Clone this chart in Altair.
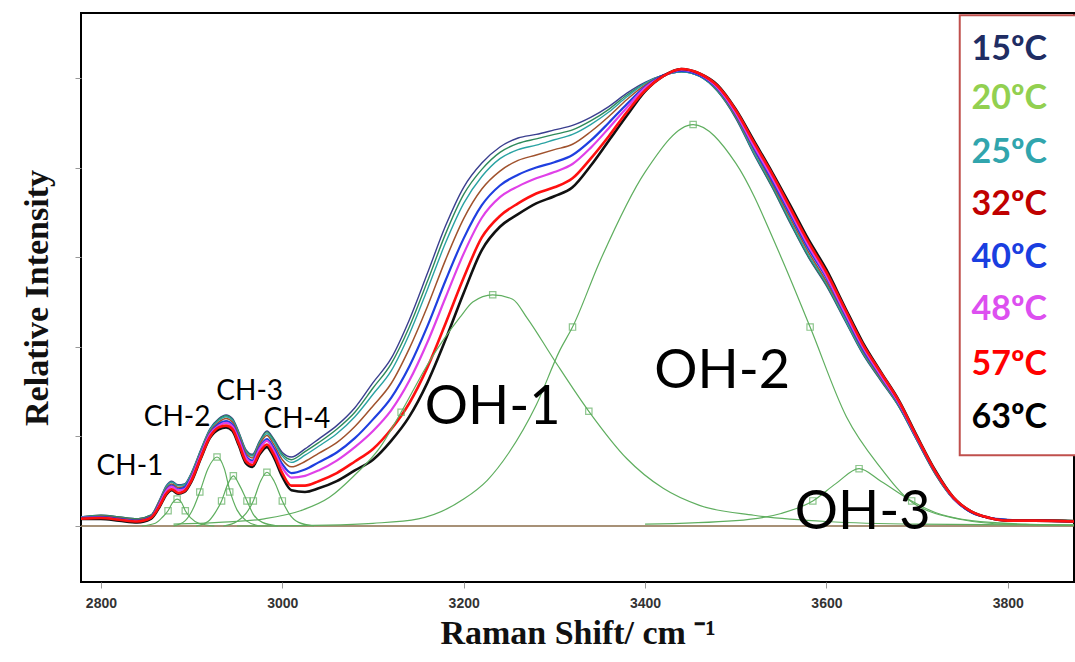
import altair as alt
import pandas as pd

# ---------------- data ----------------
wavenumber = [2778, 2800, 2820, 2840, 2855, 2865, 2872, 2878, 2885, 2892,
              2900, 2910, 2920, 2930, 2938, 2945, 2952, 2960, 2967, 2975,
              2983, 2990, 3000, 3010, 3025, 3040, 3060, 3080, 3100, 3120,
              3140, 3160, 3180, 3200, 3220, 3240, 3260, 3280, 3300, 3320,
              3340, 3360, 3380, 3400, 3420, 3440, 3460, 3480, 3500, 3520,
              3540, 3560, 3580, 3600, 3620, 3640, 3660, 3680, 3700, 3720,
              3740, 3760, 3780, 3800, 3830, 3873]

s15 = [0.10, 0.12, 0.10, 0.08, 0.12, 0.30, 0.45, 0.50, 0.46, 0.47,
       0.60, 0.85, 1.08, 1.20, 1.24, 1.20, 1.05, 0.85, 0.80, 0.95,
       1.06, 0.98, 0.82, 0.77, 0.86, 0.97, 1.12, 1.32, 1.60, 1.87,
       2.30, 2.82, 3.35, 3.78, 4.05, 4.23, 4.33, 4.37, 4.42, 4.47,
       4.56, 4.68, 4.83, 4.95, 5.03, 5.07, 5.02, 4.85, 4.55, 4.15,
       3.78, 3.38, 3.00, 2.68, 2.30, 1.92, 1.62, 1.33, 0.95, 0.58,
       0.30, 0.15, 0.09, 0.07, 0.07, 0.06]
s20 = [0.10, 0.12, 0.10, 0.08, 0.12, 0.29, 0.44, 0.49, 0.45, 0.46,
       0.59, 0.84, 1.07, 1.19, 1.23, 1.19, 1.04, 0.84, 0.79, 0.94,
       1.05, 0.97, 0.80, 0.74, 0.83, 0.93, 1.08, 1.27, 1.54, 1.81,
       2.22, 2.73, 3.26, 3.70, 3.98, 4.17, 4.27, 4.32, 4.37, 4.42,
       4.52, 4.65, 4.81, 4.94, 5.03, 5.07, 5.02, 4.85, 4.56, 4.16,
       3.79, 3.39, 3.01, 2.69, 2.31, 1.93, 1.63, 1.33, 0.95, 0.58,
       0.30, 0.15, 0.09, 0.07, 0.07, 0.06]
s25 = [0.10, 0.11, 0.09, 0.07, 0.11, 0.29, 0.44, 0.49, 0.45, 0.46,
       0.59, 0.84, 1.07, 1.18, 1.22, 1.18, 1.03, 0.83, 0.78, 0.93,
       1.03, 0.95, 0.78, 0.71, 0.79, 0.89, 1.03, 1.22, 1.47, 1.73,
       2.14, 2.64, 3.16, 3.60, 3.90, 4.10, 4.20, 4.25, 4.31, 4.37,
       4.48, 4.62, 4.79, 4.94, 5.03, 5.07, 5.02, 4.86, 4.57, 4.17,
       3.81, 3.41, 3.03, 2.71, 2.32, 1.94, 1.64, 1.34, 0.96, 0.59,
       0.30, 0.15, 0.09, 0.07, 0.07, 0.06]
s32 = [0.09, 0.11, 0.09, 0.07, 0.11, 0.28, 0.42, 0.47, 0.43, 0.44,
       0.57, 0.82, 1.05, 1.16, 1.20, 1.16, 1.01, 0.81, 0.76, 0.91,
       1.01, 0.92, 0.74, 0.66, 0.72, 0.81, 0.93, 1.11, 1.34, 1.59,
       1.98, 2.45, 2.97, 3.43, 3.76, 3.96, 4.08, 4.14, 4.20, 4.26,
       4.40, 4.57, 4.76, 4.92, 5.03, 5.08, 5.03, 4.87, 4.58, 4.20,
       3.83, 3.44, 3.06, 2.73, 2.35, 1.96, 1.65, 1.35, 0.97, 0.59,
       0.31, 0.15, 0.09, 0.07, 0.07, 0.06]
s40 = [0.09, 0.10, 0.08, 0.06, 0.10, 0.26, 0.40, 0.45, 0.41, 0.43,
       0.55, 0.80, 1.03, 1.14, 1.17, 1.13, 0.98, 0.78, 0.73, 0.88,
       0.97, 0.88, 0.69, 0.59, 0.63, 0.71, 0.82, 0.98, 1.19, 1.43,
       1.78, 2.23, 2.74, 3.21, 3.58, 3.80, 3.92, 4.00, 4.06, 4.14,
       4.30, 4.50, 4.71, 4.90, 5.03, 5.08, 5.03, 4.88, 4.60, 4.22,
       3.86, 3.48, 3.10, 2.77, 2.37, 1.98, 1.67, 1.36, 0.97, 0.60,
       0.31, 0.15, 0.09, 0.07, 0.06, 0.05]
s48 = [0.09, 0.09, 0.07, 0.05, 0.09, 0.25, 0.39, 0.44, 0.40, 0.41,
       0.54, 0.79, 1.02, 1.12, 1.15, 1.11, 0.96, 0.76, 0.71, 0.86,
       0.95, 0.85, 0.65, 0.54, 0.56, 0.62, 0.73, 0.88, 1.06, 1.29,
       1.62, 2.05, 2.55, 3.04, 3.44, 3.67, 3.79, 3.88, 3.95, 4.04,
       4.22, 4.44, 4.67, 4.89, 5.02, 5.09, 5.04, 4.89, 4.61, 4.24,
       3.89, 3.51, 3.13, 2.79, 2.39, 2.00, 1.68, 1.37, 0.98, 0.61,
       0.31, 0.16, 0.09, 0.06, 0.06, 0.05]
s57 = [0.08, 0.09, 0.07, 0.05, 0.09, 0.23, 0.36, 0.41, 0.37, 0.39,
       0.51, 0.76, 0.99, 1.10, 1.12, 1.08, 0.92, 0.72, 0.68, 0.82,
       0.91, 0.81, 0.59, 0.45, 0.45, 0.50, 0.59, 0.72, 0.86, 1.08,
       1.37, 1.77, 2.26, 2.77, 3.22, 3.46, 3.60, 3.71, 3.78, 3.88,
       4.10, 4.35, 4.62, 4.86, 5.02, 5.10, 5.05, 4.91, 4.64, 4.28,
       3.93, 3.55, 3.17, 2.83, 2.43, 2.03, 1.71, 1.39, 0.99, 0.61,
       0.32, 0.16, 0.09, 0.06, 0.06, 0.05]
s63 = [0.08, 0.08, 0.06, 0.04, 0.08, 0.22, 0.35, 0.40, 0.36, 0.38,
       0.50, 0.75, 0.98, 1.08, 1.10, 1.06, 0.90, 0.70, 0.66, 0.80,
       0.88, 0.78, 0.55, 0.40, 0.38, 0.42, 0.50, 0.62, 0.74, 0.95,
       1.22, 1.60, 2.08, 2.60, 3.08, 3.34, 3.48, 3.60, 3.68, 3.78,
       4.02, 4.30, 4.58, 4.85, 5.02, 5.10, 5.05, 4.92, 4.65, 4.30,
       3.95, 3.58, 3.20, 2.86, 2.45, 2.05, 1.72, 1.40, 1.00, 0.62,
       0.32, 0.16, 0.09, 0.06, 0.06, 0.05]

temps = ["15", "20", "25", "32", "40", "48", "57", "63"]
series = {"15": s15, "20": s20, "25": s25, "32": s32,
          "40": s40, "48": s48, "57": s57, "63": s63}

# fitted component bands
ch1_x = [2845, 2860, 2868, 2874, 2879, 2884, 2889, 2893, 2899, 2908, 2925]
ch1_y = [0.0, 0.03, 0.10, 0.17, 0.26, 0.30, 0.26, 0.17, 0.09, 0.03, 0.0]
ch2_x = [2880, 2893, 2902, 2909, 2918, 2928, 2936, 2942, 2950, 2960, 2975]
ch2_y = [0.0, 0.06, 0.20, 0.38, 0.64, 0.77, 0.64, 0.40, 0.18, 0.06, 0.0]
ch3_x = [2905, 2918, 2926, 2933, 2940, 2946, 2952, 2961, 2968, 2978, 2995]
ch3_y = [0.0, 0.05, 0.15, 0.28, 0.47, 0.56, 0.47, 0.28, 0.13, 0.04, 0.0]
ch4_x = [2935, 2950, 2960, 2968, 2976, 2983, 2991, 3000, 3008, 3018, 3035]
ch4_y = [0.0, 0.05, 0.14, 0.28, 0.50, 0.60, 0.50, 0.28, 0.13, 0.04, 0.0]
oh1_x = [2880, 2930, 2980, 3020, 3052, 3078, 3108, 3131, 3163, 3196, 3210, 3232,
         3254, 3270, 3300, 3338, 3380, 3420, 3460, 3520, 3600, 3700, 3873]
oh1_y = [0.02, 0.04, 0.08, 0.17, 0.32, 0.55, 0.88, 1.27, 1.85, 2.33, 2.50, 2.58,
         2.53, 2.32, 1.85, 1.28, 0.75, 0.42, 0.23, 0.12, 0.05, 0.02, 0.01]
oh2_x = [2950, 3050, 3100, 3150, 3200, 3226, 3250, 3280, 3306, 3320, 3350,
         3400, 3453, 3500, 3550, 3582, 3622, 3659, 3695, 3750, 3800, 3873]
oh2_y = [0.0, 0.01, 0.03, 0.08, 0.30, 0.51, 0.82, 1.35, 1.96, 2.22, 2.95,
         3.95, 4.48, 4.05, 3.00, 2.22, 1.22, 0.66, 0.26, 0.07, 0.02, 0.01]
oh3_x = [3400, 3500, 3550, 3585, 3610, 3636, 3660, 3694, 3720, 3760, 3820, 3873]
oh3_y = [0.02, 0.06, 0.14, 0.28, 0.47, 0.64, 0.50, 0.28, 0.15, 0.06, 0.02, 0.01]
components = {"CH-1": (ch1_x, ch1_y), "CH-2": (ch2_x, ch2_y), "CH-3": (ch3_x, ch3_y),
              "CH-4": (ch4_x, ch4_y), "OH-1": (oh1_x, oh1_y), "OH-2": (oh2_x, oh2_y),
              "OH-3": (oh3_x, oh3_y)}

marker_x = [2874, 2884, 2893, 2909, 2928, 2942, 2933, 2946, 2961, 2968, 2983, 3000,
            3131, 3232, 3338, 3320, 3453, 3582, 3585, 3636, 3694]
marker_y = [0.17, 0.30, 0.17, 0.38, 0.77, 0.38, 0.28, 0.56, 0.28, 0.28, 0.60, 0.28,
            1.27, 2.58, 1.28, 2.22, 4.48, 2.22, 0.28, 0.64, 0.28]

band_labels = ["CH-1", "CH-2", "CH-3", "CH-4", "OH-1", "OH-2", "OH-3"]
band_label_x = [2832, 2884, 2964, 3016, 3232, 3485, 3640]
band_label_y = [0.66, 1.21, 1.50, 1.18, 1.32, 1.72, 0.15]
band_label_size = [28, 28, 28, 28, 54, 54, 54]

legend_text = [t + "ºC" for t in temps]
legend_x = 3760
legend_y = [5.31, 4.77, 4.16, 3.58, 2.99, 2.41, 1.80, 1.21]

# ---------------- styles ----------------
line_colors = {"15": "#3a3f8f", "20": "#2f8a5a", "25": "#2aa3a3", "32": "#a0522d",
               "40": "#1f3fe0", "48": "#e040e8", "57": "#ff1010", "63": "#111111"}
line_widths = {"15": 1.4, "20": 1.4, "25": 1.4, "32": 1.5,
               "40": 2.2, "48": 2.2, "57": 2.6, "63": 2.6}
legend_colors = ["#1f2d63", "#92d050", "#31a5ad", "#c00000",
                 "#1a3ee0", "#dd4ff0", "#ff0000", "#000000"]
fit_green = "#5fae5f"

xs = alt.Scale(domain=[2778, 3873], nice=False, zero=False)
ys = alt.Scale(domain=[-0.625, 5.725], nice=False, zero=False)
x_axis = alt.Axis(values=[2800, 3000, 3200, 3400, 3600, 3800], format="d",
                  labelFont="Liberation Sans", labelFontWeight="bold",
                  labelFontSize=14, labelColor="#333333", labelPadding=8,
                  tickColor="#999999", tickSize=6, domain=False, grid=False,
                  titleFont="Liberation Serif", titleFontWeight="bold",
                  titleFontSize=34, titleColor="#111111", titlePadding=6)
y_axis = alt.Axis(values=[0, 1, 2, 3, 4, 5], labels=False, tickColor="#999999",
                  tickSize=6, domain=False, grid=False,
                  titleFont="Liberation Serif", titleFontWeight="bold",
                  titleFontSize=34, titleColor="#111111", titlePadding=20)
X_TITLE = "Raman Shift/ cm ⁻¹"
Y_TITLE = "Relative Intensity"


def X(field="x"):
    return alt.X(f"{field}:Q", scale=xs, axis=x_axis, title=X_TITLE)


def Y(field="y"):
    return alt.Y(f"{field}:Q", scale=ys, axis=y_axis, title=Y_TITLE)


layers = []

# baseline
base_df = pd.DataFrame({"x": [wavenumber[0], wavenumber[-1]], "y": [0.0, 0.0]})
layers.append(alt.Chart(base_df).mark_line(color="#8a6d4a", strokeWidth=1.6)
              .encode(x=X(), y=Y()))

# spectra
for t in ["15", "20", "25", "32", "40", "48", "63", "57"]:
    df = pd.DataFrame({"x": wavenumber, "y": series[t]})
    layers.append(alt.Chart(df).mark_line(color=line_colors[t], strokeWidth=line_widths[t],
                                          interpolate="monotone", clip=True)
                  .encode(x=X(), y=Y()))

# component fits
for name, (cx, cy) in components.items():
    df = pd.DataFrame({"x": cx, "y": cy})
    layers.append(alt.Chart(df).mark_line(color=fit_green, strokeWidth=1.2,
                                          interpolate="monotone", clip=True)
                  .encode(x=X(), y=Y()))

mk_df = pd.DataFrame({"x": marker_x, "y": marker_y})
layers.append(alt.Chart(mk_df).mark_point(shape="square", size=40, filled=False,
                                          color=fit_green, strokeWidth=1.2)
              .encode(x=X(), y=Y()))

# band labels
lab_df = pd.DataFrame({"x": band_label_x, "y": band_label_y,
                       "t": band_labels, "s": band_label_size})
for size in sorted(set(band_label_size)):
    sub = lab_df[lab_df["s"] == size]
    layers.append(alt.Chart(sub).mark_text(font="Lato", fontSize=size, color="black",
                                           align="center", baseline="middle")
                  .encode(x=X(), y=Y(), text="t:N"))

# legend box
box_df = pd.DataFrame({"x": [3747], "x2": [3885], "y": [5.70], "y2": [0.79]})
layers.append(alt.Chart(box_df).mark_rect(fill="white", stroke="#c0504d", strokeWidth=2)
              .encode(x=X(), x2="x2:Q", y=Y(), y2="y2:Q"))
leg_df = pd.DataFrame({"x": [legend_x] * len(temps), "y": legend_y,
                       "t": legend_text, "c": legend_colors})
layers.append(alt.Chart(leg_df).mark_text(font="Lato", fontWeight="bold", fontSize=34,
                                          align="left", baseline="middle")
              .encode(x=X(), y=Y(), text="t:N",
                      color=alt.Color("c:N", scale=None)))

chart = (alt.layer(*layers)
         .properties(width=993, height=569, background="white",
                     autosize=alt.AutoSizeParams(type="none"),
                     padding={"left": 81, "top": 13, "right": 1, "bottom": 80})
         .configure_view(stroke="black", strokeWidth=2))

chart.save("out.html", embed_options={"renderer": "svg", "actions": False})
